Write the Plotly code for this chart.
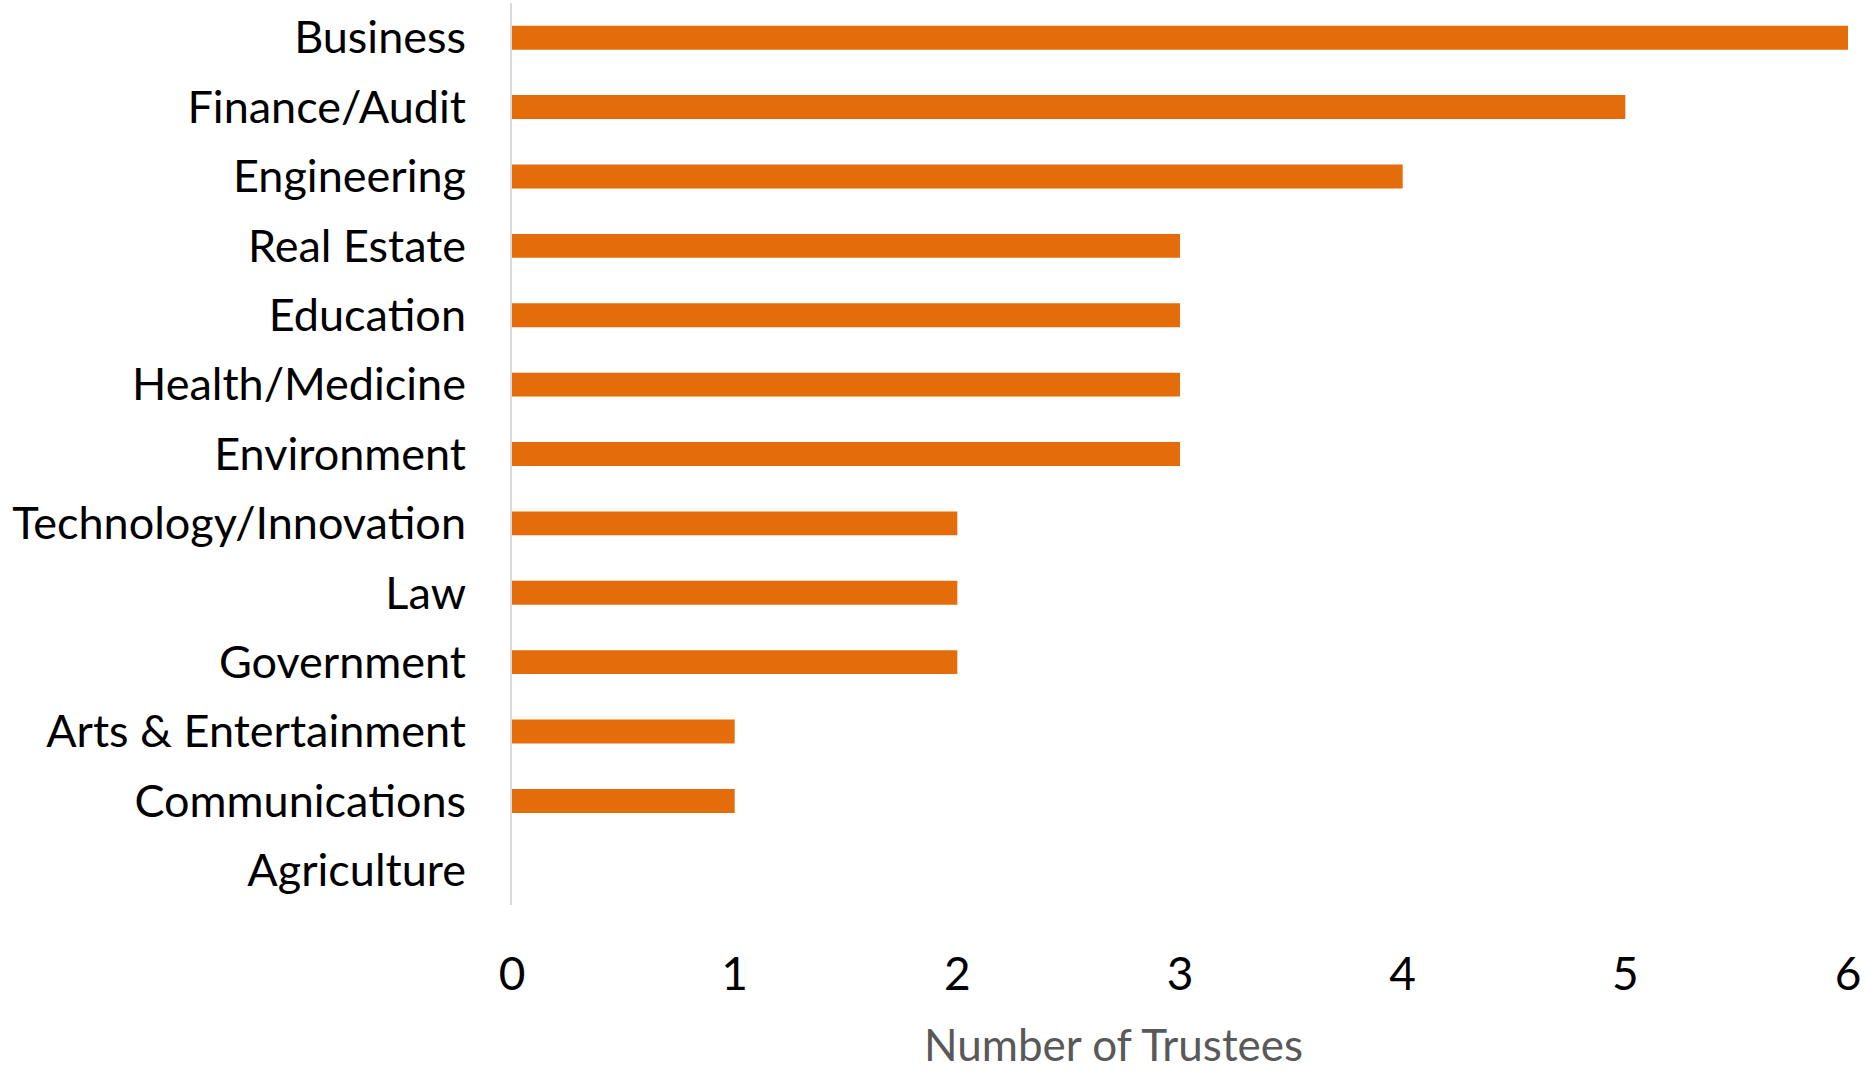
import plotly.graph_objects as go

categories = ["Business", "Finance/Audit", "Engineering", "Real Estate", "Education",
              "Health/Medicine", "Environment", "Technology/Innovation", "Law",
              "Government", "Arts & Entertainment", "Communications", "Agriculture"]
values = [6, 5, 4, 3, 3, 3, 3, 2, 2, 2, 1, 1, 0]
x_ticks = [0, 1, 2, 3, 4, 5, 6]
x_title = "Number of Trustees"

W, H = 1866, 1072
L, R, T, B = 512, 18, 3, 167

fig = go.Figure(go.Bar(
    y=categories, x=values, orientation="h",
    marker=dict(color="#E46C0A", line=dict(width=0)),
))

fig.update_layout(
    width=W, height=H,
    margin=dict(l=L, r=R, t=T, b=B, autoexpand=False),
    paper_bgcolor="white", plot_bgcolor="white",
    bargap=0.655,
    showlegend=False,
    font=dict(family="Lato", color="black"),
)
fig.update_xaxes(
    range=[0, 6], tickvals=x_ticks, ticktext=[str(v) for v in x_ticks],
    showgrid=False, zeroline=False, showline=False,
    tickfont=dict(size=46, family="Lato", color="black"),
    ticklabelstandoff=38,
)
fig.update_yaxes(
    categoryorder="array", categoryarray=categories, autorange="reversed",
    showgrid=False, zeroline=False, showline=True, linecolor="#D9D9D9", linewidth=2,
    tickfont=dict(size=45, family="Lato", color="black"),
    ticklabelstandoff=35,
)
fig.add_annotation(
    text=x_title, xref="paper", yref="paper",
    x=(1113 - L) / (W - L - R), y=(H - B - 1044) / (H - B - T),
    xanchor="center", yanchor="middle", showarrow=False,
    font=dict(size=44, family="Lato", color="#595959"),
)

fig.write_html("out.html")
